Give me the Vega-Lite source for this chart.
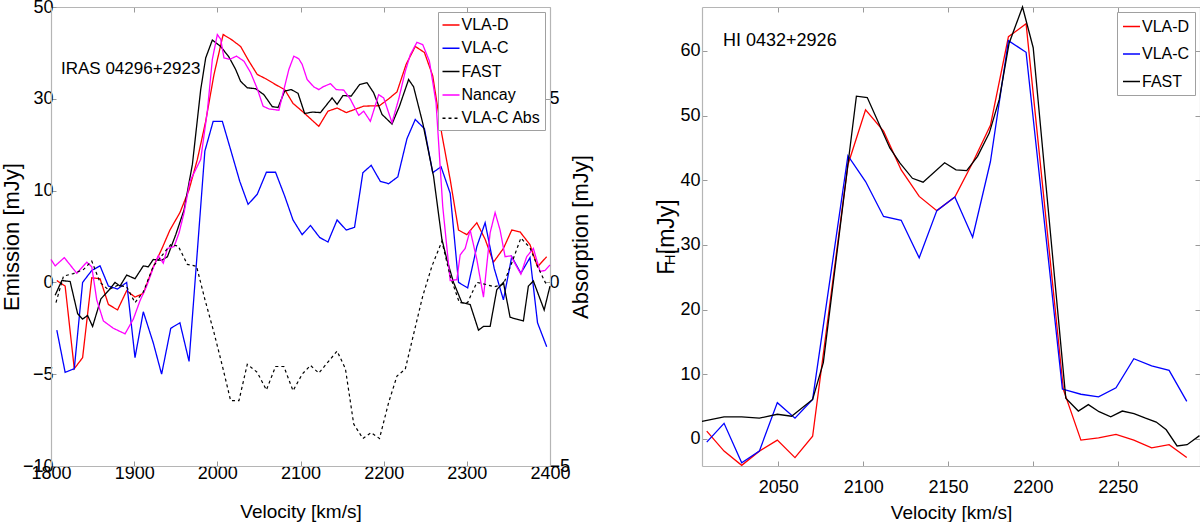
{
  "$schema": "https://vega.github.io/schema/vega-lite/v6.json",
  "background": "white",
  "padding": {"left": 0, "top": -2, "right": 0, "bottom": 0},
  "spacing": 152,
  "bounds": "flush",
  "datasets": {
    "irasEmission": [
      {"s": "VLA-D", "v": 1807, "f": 0.2}, {"s": "VLA-D", "v": 1817, "f": -0.2}, {"s": "VLA-D", "v": 1828, "f": -4.7}, {"s": "VLA-D", "v": 1838, "f": -4.1},
      {"s": "VLA-D", "v": 1849, "f": 0.5}, {"s": "VLA-D", "v": 1859, "f": 0.4}, {"s": "VLA-D", "v": 1869, "f": -1.2}, {"s": "VLA-D", "v": 1880, "f": -1.5},
      {"s": "VLA-D", "v": 1891, "f": -0.45}, {"s": "VLA-D", "v": 1901, "f": -0.8}, {"s": "VLA-D", "v": 1911, "f": -0.6}, {"s": "VLA-D", "v": 1923, "f": 1.7},
      {"s": "VLA-D", "v": 1933, "f": 3.6}, {"s": "VLA-D", "v": 1943, "f": 5.7}, {"s": "VLA-D", "v": 1955, "f": 7.6}, {"s": "VLA-D", "v": 1966, "f": 10.2},
      {"s": "VLA-D", "v": 1976, "f": 16.8}, {"s": "VLA-D", "v": 1986, "f": 25.1}, {"s": "VLA-D", "v": 1996, "f": 35.3}, {"s": "VLA-D", "v": 2007, "f": 44},
      {"s": "VLA-D", "v": 2017, "f": 42.9}, {"s": "VLA-D", "v": 2028, "f": 41.4}, {"s": "VLA-D", "v": 2038, "f": 38.2}, {"s": "VLA-D", "v": 2048, "f": 35.3},
      {"s": "VLA-D", "v": 2059, "f": 34.3}, {"s": "VLA-D", "v": 2070, "f": 33.1}, {"s": "VLA-D", "v": 2081, "f": 32}, {"s": "VLA-D", "v": 2091, "f": 29},
      {"s": "VLA-D", "v": 2102, "f": 27.3}, {"s": "VLA-D", "v": 2122, "f": 24.0}, {"s": "VLA-D", "v": 2133, "f": 27.3}, {"s": "VLA-D", "v": 2144, "f": 28},
      {"s": "VLA-D", "v": 2155, "f": 27}, {"s": "VLA-D", "v": 2176, "f": 28.4}, {"s": "VLA-D", "v": 2195, "f": 28.5}, {"s": "VLA-D", "v": 2206, "f": 30},
      {"s": "VLA-D", "v": 2216, "f": 31.5}, {"s": "VLA-D", "v": 2227, "f": 37.5}, {"s": "VLA-D", "v": 2238, "f": 41.4}, {"s": "VLA-D", "v": 2249, "f": 40.1},
      {"s": "VLA-D", "v": 2259, "f": 35}, {"s": "VLA-D", "v": 2270, "f": 22.2}, {"s": "VLA-D", "v": 2280, "f": 12.4}, {"s": "VLA-D", "v": 2290, "f": 5.7},
      {"s": "VLA-D", "v": 2300, "f": 5.2}, {"s": "VLA-D", "v": 2312, "f": 6.5}, {"s": "VLA-D", "v": 2322, "f": 4.7}, {"s": "VLA-D", "v": 2332, "f": 2.2},
      {"s": "VLA-D", "v": 2344, "f": 3.7}, {"s": "VLA-D", "v": 2354, "f": 5.7}, {"s": "VLA-D", "v": 2364, "f": 5.5}, {"s": "VLA-D", "v": 2376, "f": 4.1},
      {"s": "VLA-D", "v": 2385, "f": 1.7}, {"s": "VLA-D", "v": 2396, "f": 2.8},

      {"s": "VLA-C", "v": 1807, "f": -2.6}, {"s": "VLA-C", "v": 1817, "f": -4.9}, {"s": "VLA-C", "v": 1828, "f": -4.7}, {"s": "VLA-C", "v": 1838, "f": 0},
      {"s": "VLA-C", "v": 1849, "f": 1.3}, {"s": "VLA-C", "v": 1859, "f": 1.8}, {"s": "VLA-C", "v": 1869, "f": -0.2}, {"s": "VLA-C", "v": 1880, "f": -0.36},
      {"s": "VLA-C", "v": 1891, "f": 0}, {"s": "VLA-C", "v": 1901, "f": -4.1}, {"s": "VLA-C", "v": 1911, "f": -1.6}, {"s": "VLA-C", "v": 1923, "f": -3.3},
      {"s": "VLA-C", "v": 1933, "f": -5}, {"s": "VLA-C", "v": 1944, "f": -2.5}, {"s": "VLA-C", "v": 1955, "f": -2.2}, {"s": "VLA-C", "v": 1966, "f": -4.3},
      {"s": "VLA-C", "v": 1985, "f": 18.6}, {"s": "VLA-C", "v": 1995, "f": 25.1}, {"s": "VLA-C", "v": 2006, "f": 25.1}, {"s": "VLA-C", "v": 2016, "f": 18.9},
      {"s": "VLA-C", "v": 2027, "f": 12.0}, {"s": "VLA-C", "v": 2037, "f": 8.5}, {"s": "VLA-C", "v": 2048, "f": 9.6}, {"s": "VLA-C", "v": 2059, "f": 14},
      {"s": "VLA-C", "v": 2070, "f": 14}, {"s": "VLA-C", "v": 2081, "f": 9.4}, {"s": "VLA-C", "v": 2091, "f": 6.8}, {"s": "VLA-C", "v": 2102, "f": 5.2},
      {"s": "VLA-C", "v": 2112, "f": 6.2}, {"s": "VLA-C", "v": 2123, "f": 4.9}, {"s": "VLA-C", "v": 2133, "f": 4.4}, {"s": "VLA-C", "v": 2144, "f": 6.8},
      {"s": "VLA-C", "v": 2155, "f": 5.7}, {"s": "VLA-C", "v": 2165, "f": 6.0}, {"s": "VLA-C", "v": 2175, "f": 13.9}, {"s": "VLA-C", "v": 2185, "f": 15.5},
      {"s": "VLA-C", "v": 2196, "f": 12}, {"s": "VLA-C", "v": 2206, "f": 11.5}, {"s": "VLA-C", "v": 2217, "f": 13}, {"s": "VLA-C", "v": 2228, "f": 21.3},
      {"s": "VLA-C", "v": 2238, "f": 25.5}, {"s": "VLA-C", "v": 2249, "f": 23.5}, {"s": "VLA-C", "v": 2259, "f": 13.9}, {"s": "VLA-C", "v": 2269, "f": 15.2},
      {"s": "VLA-C", "v": 2280, "f": 9.7}, {"s": "VLA-C", "v": 2290, "f": 0}, {"s": "VLA-C", "v": 2301, "f": -0.3}, {"s": "VLA-C", "v": 2312, "f": 3.9},
      {"s": "VLA-C", "v": 2322, "f": 6.5}, {"s": "VLA-C", "v": 2333, "f": 1.5}, {"s": "VLA-C", "v": 2344, "f": -0.95}, {"s": "VLA-C", "v": 2354, "f": 2.8},
      {"s": "VLA-C", "v": 2365, "f": 1.0}, {"s": "VLA-C", "v": 2376, "f": 2.7}, {"s": "VLA-C", "v": 2385, "f": -2.2}, {"s": "VLA-C", "v": 2396, "f": -3.5},

      {"s": "FAST", "v": 1805, "f": -0.7}, {"s": "FAST", "v": 1813, "f": 0.2}, {"s": "FAST", "v": 1823, "f": 0.1}, {"s": "FAST", "v": 1832, "f": -1.7},
      {"s": "FAST", "v": 1838, "f": -2.0}, {"s": "FAST", "v": 1844, "f": -1.8}, {"s": "FAST", "v": 1850, "f": -2.4}, {"s": "FAST", "v": 1860, "f": -0.9},
      {"s": "FAST", "v": 1870, "f": -0.4}, {"s": "FAST", "v": 1877, "f": 0}, {"s": "FAST", "v": 1883, "f": -0.2}, {"s": "FAST", "v": 1891, "f": 0.8},
      {"s": "FAST", "v": 1901, "f": 0.4}, {"s": "FAST", "v": 1911, "f": 1.8}, {"s": "FAST", "v": 1917, "f": 1.7}, {"s": "FAST", "v": 1923, "f": 2.5},
      {"s": "FAST", "v": 1933, "f": 2.4}, {"s": "FAST", "v": 1940, "f": 2.8}, {"s": "FAST", "v": 1950, "f": 5.2}, {"s": "FAST", "v": 1960, "f": 7.9},
      {"s": "FAST", "v": 1970, "f": 15.7}, {"s": "FAST", "v": 1980, "f": 32}, {"s": "FAST", "v": 1986, "f": 38.9}, {"s": "FAST", "v": 1994, "f": 42.8},
      {"s": "FAST", "v": 2004, "f": 41.4}, {"s": "FAST", "v": 2014, "f": 39.1}, {"s": "FAST", "v": 2022, "f": 36.4}, {"s": "FAST", "v": 2028, "f": 33.8},
      {"s": "FAST", "v": 2036, "f": 32.4}, {"s": "FAST", "v": 2046, "f": 32.2}, {"s": "FAST", "v": 2056, "f": 30.9}, {"s": "FAST", "v": 2066, "f": 28.3},
      {"s": "FAST", "v": 2073, "f": 28.1}, {"s": "FAST", "v": 2081, "f": 31.7}, {"s": "FAST", "v": 2089, "f": 32}, {"s": "FAST", "v": 2097, "f": 31.2},
      {"s": "FAST", "v": 2105, "f": 26.8}, {"s": "FAST", "v": 2114, "f": 27.1}, {"s": "FAST", "v": 2124, "f": 27}, {"s": "FAST", "v": 2138, "f": 30.2},
      {"s": "FAST", "v": 2144, "f": 28.8}, {"s": "FAST", "v": 2151, "f": 30.7}, {"s": "FAST", "v": 2161, "f": 30.6}, {"s": "FAST", "v": 2171, "f": 33.1},
      {"s": "FAST", "v": 2180, "f": 33.5}, {"s": "FAST", "v": 2188, "f": 31.3}, {"s": "FAST", "v": 2198, "f": 26.6}, {"s": "FAST", "v": 2210, "f": 24.5},
      {"s": "FAST", "v": 2219, "f": 28.4}, {"s": "FAST", "v": 2230, "f": 34.2}, {"s": "FAST", "v": 2236, "f": 32.6}, {"s": "FAST", "v": 2247, "f": 24.7},
      {"s": "FAST", "v": 2260, "f": 13.1}, {"s": "FAST", "v": 2270, "f": 4.7}, {"s": "FAST", "v": 2276, "f": 2.5}, {"s": "FAST", "v": 2284, "f": 0},
      {"s": "FAST", "v": 2294, "f": -1.1}, {"s": "FAST", "v": 2304, "f": -1.2}, {"s": "FAST", "v": 2314, "f": -2.6}, {"s": "FAST", "v": 2320, "f": -2.4},
      {"s": "FAST", "v": 2328, "f": -2.4}, {"s": "FAST", "v": 2336, "f": -0.4}, {"s": "FAST", "v": 2344, "f": 0}, {"s": "FAST", "v": 2352, "f": -1.9},
      {"s": "FAST", "v": 2360, "f": -2.0}, {"s": "FAST", "v": 2368, "f": -2.1}, {"s": "FAST", "v": 2374, "f": -0.2}, {"s": "FAST", "v": 2380, "f": 0.15},
      {"s": "FAST", "v": 2393, "f": -1.5}, {"s": "FAST", "v": 2400, "f": -0.2},

      {"s": "Nancay", "v": 1800, "f": 2.5}, {"s": "Nancay", "v": 1805, "f": 1.8}, {"s": "Nancay", "v": 1816, "f": 2.7}, {"s": "Nancay", "v": 1831, "f": 1.0},
      {"s": "Nancay", "v": 1843, "f": 2.2}, {"s": "Nancay", "v": 1849, "f": 1.7}, {"s": "Nancay", "v": 1855, "f": -0.95}, {"s": "Nancay", "v": 1863, "f": -2.1},
      {"s": "Nancay", "v": 1875, "f": -2.5}, {"s": "Nancay", "v": 1889, "f": -2.8}, {"s": "Nancay", "v": 1899, "f": -2.0}, {"s": "Nancay", "v": 1907, "f": -1.0},
      {"s": "Nancay", "v": 1915, "f": -0.2}, {"s": "Nancay", "v": 1923, "f": 1.6}, {"s": "Nancay", "v": 1929, "f": 2.9}, {"s": "Nancay", "v": 1935, "f": 2.1},
      {"s": "Nancay", "v": 1940, "f": 3.7}, {"s": "Nancay", "v": 1948, "f": 3.9}, {"s": "Nancay", "v": 1954, "f": 5.4}, {"s": "Nancay", "v": 1960, "f": 7.6},
      {"s": "Nancay", "v": 1967, "f": 12}, {"s": "Nancay", "v": 1980, "f": 16.8}, {"s": "Nancay", "v": 1988, "f": 27.3}, {"s": "Nancay", "v": 1994, "f": 38.6},
      {"s": "Nancay", "v": 2000, "f": 44}, {"s": "Nancay", "v": 2004, "f": 43}, {"s": "Nancay", "v": 2008, "f": 38.9}, {"s": "Nancay", "v": 2015, "f": 38.6},
      {"s": "Nancay", "v": 2023, "f": 39.3}, {"s": "Nancay", "v": 2032, "f": 38.2}, {"s": "Nancay", "v": 2040, "f": 35.7}, {"s": "Nancay", "v": 2048, "f": 32.2},
      {"s": "Nancay", "v": 2055, "f": 28.4}, {"s": "Nancay", "v": 2062, "f": 27.8}, {"s": "Nancay", "v": 2074, "f": 27.5}, {"s": "Nancay", "v": 2080, "f": 32},
      {"s": "Nancay", "v": 2086, "f": 36.4}, {"s": "Nancay", "v": 2092, "f": 39.3}, {"s": "Nancay", "v": 2098, "f": 38.7}, {"s": "Nancay", "v": 2102, "f": 37.5},
      {"s": "Nancay", "v": 2108, "f": 34.2}, {"s": "Nancay", "v": 2116, "f": 32.6}, {"s": "Nancay", "v": 2122, "f": 32}, {"s": "Nancay", "v": 2127, "f": 32.6},
      {"s": "Nancay", "v": 2136, "f": 33.3}, {"s": "Nancay", "v": 2143, "f": 32}, {"s": "Nancay", "v": 2152, "f": 31.9}, {"s": "Nancay", "v": 2160, "f": 29.9},
      {"s": "Nancay", "v": 2170, "f": 26.4}, {"s": "Nancay", "v": 2176, "f": 27.3}, {"s": "Nancay", "v": 2184, "f": 25.1}, {"s": "Nancay", "v": 2194, "f": 30.9},
      {"s": "Nancay", "v": 2200, "f": 30.2}, {"s": "Nancay", "v": 2210, "f": 24.8}, {"s": "Nancay", "v": 2218, "f": 29.9}, {"s": "Nancay", "v": 2226, "f": 36},
      {"s": "Nancay", "v": 2232, "f": 39.6}, {"s": "Nancay", "v": 2240, "f": 42.3}, {"s": "Nancay", "v": 2247, "f": 41.8}, {"s": "Nancay", "v": 2255, "f": 38.2},
      {"s": "Nancay", "v": 2263, "f": 29.1}, {"s": "Nancay", "v": 2271, "f": 8.3}, {"s": "Nancay", "v": 2280, "f": 0.2}, {"s": "Nancay", "v": 2288, "f": 0.3},
      {"s": "Nancay", "v": 2292, "f": 3.0}, {"s": "Nancay", "v": 2298, "f": 3.7}, {"s": "Nancay", "v": 2304, "f": 5.7}, {"s": "Nancay", "v": 2312, "f": 2.5},
      {"s": "Nancay", "v": 2320, "f": -0.8}, {"s": "Nancay", "v": 2328, "f": 5.4}, {"s": "Nancay", "v": 2334, "f": 7.6}, {"s": "Nancay", "v": 2340, "f": 5.7},
      {"s": "Nancay", "v": 2346, "f": 2.8}, {"s": "Nancay", "v": 2353, "f": 2.9}, {"s": "Nancay", "v": 2360, "f": 1.7}, {"s": "Nancay", "v": 2365, "f": 0.9},
      {"s": "Nancay", "v": 2372, "f": 2.8}, {"s": "Nancay", "v": 2380, "f": 3.7}, {"s": "Nancay", "v": 2388, "f": 1.2}, {"s": "Nancay", "v": 2394, "f": 1.3},
      {"s": "Nancay", "v": 2400, "f": 1.9}
    ],
    "irasAbsorption": [
      {"s": "VLA-C Abs", "v": 1806, "a": -0.55}, {"s": "VLA-C Abs", "v": 1815, "a": 0.17}, {"s": "VLA-C Abs", "v": 1827, "a": 0.24}, {"s": "VLA-C Abs", "v": 1839, "a": 0.35},
      {"s": "VLA-C Abs", "v": 1849, "a": 0.58}, {"s": "VLA-C Abs", "v": 1859, "a": 0}, {"s": "VLA-C Abs", "v": 1869, "a": -0.2}, {"s": "VLA-C Abs", "v": 1880, "a": -0.08},
      {"s": "VLA-C Abs", "v": 1891, "a": -0.12}, {"s": "VLA-C Abs", "v": 1901, "a": -0.55}, {"s": "VLA-C Abs", "v": 1911, "a": -0.26}, {"s": "VLA-C Abs", "v": 1923, "a": 0.44},
      {"s": "VLA-C Abs", "v": 1933, "a": 0.72}, {"s": "VLA-C Abs", "v": 1944, "a": 1.03}, {"s": "VLA-C Abs", "v": 1953, "a": 0.99}, {"s": "VLA-C Abs", "v": 1964, "a": 0.49},
      {"s": "VLA-C Abs", "v": 1975, "a": 0.44}, {"s": "VLA-C Abs", "v": 1985, "a": -0.46}, {"s": "VLA-C Abs", "v": 1996, "a": -1.37}, {"s": "VLA-C Abs", "v": 2006, "a": -2.27},
      {"s": "VLA-C Abs", "v": 2016, "a": -3.22}, {"s": "VLA-C Abs", "v": 2026, "a": -3.22}, {"s": "VLA-C Abs", "v": 2036, "a": -2.23}, {"s": "VLA-C Abs", "v": 2048, "a": -2.45},
      {"s": "VLA-C Abs", "v": 2059, "a": -2.93}, {"s": "VLA-C Abs", "v": 2070, "a": -2.29}, {"s": "VLA-C Abs", "v": 2080, "a": -2.29}, {"s": "VLA-C Abs", "v": 2091, "a": -2.95},
      {"s": "VLA-C Abs", "v": 2102, "a": -2.5}, {"s": "VLA-C Abs", "v": 2112, "a": -2.26}, {"s": "VLA-C Abs", "v": 2122, "a": -2.47}, {"s": "VLA-C Abs", "v": 2144, "a": -1.87},
      {"s": "VLA-C Abs", "v": 2154, "a": -2.35}, {"s": "VLA-C Abs", "v": 2164, "a": -3.86}, {"s": "VLA-C Abs", "v": 2175, "a": -4.25}, {"s": "VLA-C Abs", "v": 2185, "a": -4.09},
      {"s": "VLA-C Abs", "v": 2195, "a": -4.25}, {"s": "VLA-C Abs", "v": 2206, "a": -3.27}, {"s": "VLA-C Abs", "v": 2216, "a": -2.55}, {"s": "VLA-C Abs", "v": 2226, "a": -2.36},
      {"s": "VLA-C Abs", "v": 2236, "a": -1.41}, {"s": "VLA-C Abs", "v": 2247, "a": -0.37}, {"s": "VLA-C Abs", "v": 2258, "a": 0.44}, {"s": "VLA-C Abs", "v": 2270, "a": 1.12},
      {"s": "VLA-C Abs", "v": 2280, "a": 0.17}, {"s": "VLA-C Abs", "v": 2291, "a": -0.55}, {"s": "VLA-C Abs", "v": 2301, "a": -0.55}, {"s": "VLA-C Abs", "v": 2312, "a": 0},
      {"s": "VLA-C Abs", "v": 2322, "a": -0.05}, {"s": "VLA-C Abs", "v": 2333, "a": -0.12}, {"s": "VLA-C Abs", "v": 2344, "a": -0.05}, {"s": "VLA-C Abs", "v": 2354, "a": 0.53},
      {"s": "VLA-C Abs", "v": 2365, "a": 1.21}, {"s": "VLA-C Abs", "v": 2376, "a": 0.94}, {"s": "VLA-C Abs", "v": 2385, "a": 0.44}, {"s": "VLA-C Abs", "v": 2396, "a": -0.08}
    ],
    "hiSpectra": [
      {"s": "VLA-D", "v": 2007.8, "f": 1.2}, {"s": "VLA-D", "v": 2018, "f": -1.9}, {"s": "VLA-D", "v": 2028.4, "f": -4.1}, {"s": "VLA-D", "v": 2038.8, "f": -1.9},
      {"s": "VLA-D", "v": 2049.4, "f": -0.2}, {"s": "VLA-D", "v": 2059.8, "f": -2.9}, {"s": "VLA-D", "v": 2070.2, "f": 0.4}, {"s": "VLA-D", "v": 2091, "f": 42.4},
      {"s": "VLA-D", "v": 2101.4, "f": 50.9}, {"s": "VLA-D", "v": 2112, "f": 47.6}, {"s": "VLA-D", "v": 2122.4, "f": 41.6}, {"s": "VLA-D", "v": 2133, "f": 37.5},
      {"s": "VLA-D", "v": 2143.4, "f": 35.3}, {"s": "VLA-D", "v": 2154, "f": 37.4}, {"s": "VLA-D", "v": 2164.5, "f": 42.7}, {"s": "VLA-D", "v": 2175, "f": 48.5},
      {"s": "VLA-D", "v": 2185.6, "f": 62.2}, {"s": "VLA-D", "v": 2196, "f": 64.2}, {"s": "VLA-D", "v": 2218, "f": 7.6}, {"s": "VLA-D", "v": 2228.3, "f": -0.2},
      {"s": "VLA-D", "v": 2238.7, "f": 0.15}, {"s": "VLA-D", "v": 2249, "f": 0.7}, {"s": "VLA-D", "v": 2259.5, "f": -0.2}, {"s": "VLA-D", "v": 2270, "f": -1.4},
      {"s": "VLA-D", "v": 2280.3, "f": -0.9}, {"s": "VLA-D", "v": 2290.7, "f": -2.9},

      {"s": "VLA-C", "v": 2007.8, "f": -0.5}, {"s": "VLA-C", "v": 2018, "f": 2.4}, {"s": "VLA-C", "v": 2028.4, "f": -3.7}, {"s": "VLA-C", "v": 2038.8, "f": -1.9},
      {"s": "VLA-C", "v": 2049.4, "f": 5.6}, {"s": "VLA-C", "v": 2059.8, "f": 3.2}, {"s": "VLA-C", "v": 2070.2, "f": 6.1}, {"s": "VLA-C", "v": 2091, "f": 43.8},
      {"s": "VLA-C", "v": 2101.4, "f": 39.8}, {"s": "VLA-C", "v": 2112, "f": 34.4}, {"s": "VLA-C", "v": 2122.4, "f": 33.8}, {"s": "VLA-C", "v": 2133, "f": 28},
      {"s": "VLA-C", "v": 2143.4, "f": 35.3}, {"s": "VLA-C", "v": 2154, "f": 37.4}, {"s": "VLA-C", "v": 2164.5, "f": 31.2}, {"s": "VLA-C", "v": 2175, "f": 42.9},
      {"s": "VLA-C", "v": 2185.6, "f": 61.6}, {"s": "VLA-C", "v": 2196, "f": 59.8}, {"s": "VLA-C", "v": 2217.4, "f": 7.7}, {"s": "VLA-C", "v": 2228.3, "f": 6.9},
      {"s": "VLA-C", "v": 2238.7, "f": 6.5}, {"s": "VLA-C", "v": 2249, "f": 7.9}, {"s": "VLA-C", "v": 2259.5, "f": 12.4}, {"s": "VLA-C", "v": 2270, "f": 11.3},
      {"s": "VLA-C", "v": 2280.3, "f": 10.6}, {"s": "VLA-C", "v": 2290.7, "f": 5.8},

      {"s": "FAST", "v": 2005, "f": 2.7}, {"s": "FAST", "v": 2018, "f": 3.4}, {"s": "FAST", "v": 2028.4, "f": 3.4}, {"s": "FAST", "v": 2038.8, "f": 3.2},
      {"s": "FAST", "v": 2049.4, "f": 3.8}, {"s": "FAST", "v": 2057.8, "f": 3.5}, {"s": "FAST", "v": 2070.2, "f": 6.1}, {"s": "FAST", "v": 2076.5, "f": 11.8},
      {"s": "FAST", "v": 2096, "f": 53}, {"s": "FAST", "v": 2102.4, "f": 52.8}, {"s": "FAST", "v": 2115.7, "f": 45}, {"s": "FAST", "v": 2121.6, "f": 42.7},
      {"s": "FAST", "v": 2129, "f": 40.3}, {"s": "FAST", "v": 2135.3, "f": 39.7}, {"s": "FAST", "v": 2148, "f": 42.7}, {"s": "FAST", "v": 2154.7, "f": 41.6},
      {"s": "FAST", "v": 2161, "f": 41.5}, {"s": "FAST", "v": 2167.4, "f": 43.7}, {"s": "FAST", "v": 2174.3, "f": 47.3}, {"s": "FAST", "v": 2180.2, "f": 52.5},
      {"s": "FAST", "v": 2186, "f": 61.2}, {"s": "FAST", "v": 2193.9, "f": 66.8}, {"s": "FAST", "v": 2200.2, "f": 60.5}, {"s": "FAST", "v": 2219.4, "f": 6.3},
      {"s": "FAST", "v": 2226.8, "f": 4.3}, {"s": "FAST", "v": 2232.7, "f": 5.3}, {"s": "FAST", "v": 2239, "f": 4.2}, {"s": "FAST", "v": 2245.9, "f": 3.4},
      {"s": "FAST", "v": 2252.7, "f": 4.3}, {"s": "FAST", "v": 2259.6, "f": 3.9}, {"s": "FAST", "v": 2266.4, "f": 3.2}, {"s": "FAST", "v": 2272.7, "f": 2.6},
      {"s": "FAST", "v": 2278.6, "f": 1.4}, {"s": "FAST", "v": 2285, "f": -1.1}, {"s": "FAST", "v": 2290.9, "f": -0.9}, {"s": "FAST", "v": 2298.2, "f": 0.5}
    ],
    "labels": [
      {"panel": "iras", "label": "IRAS 04296+2923"},
      {"panel": "hi", "label": "HI 0432+2926"},
      {"panel": "hisub", "label": "HI"}
    ]
  },
  "hconcat": [
    {
      "width": 499,
      "height": 459,
      "layer": [
        {
          "data": {"name": "irasEmission"},
          "mark": {"type": "line", "strokeWidth": 1.3},
          "encoding": {
            "x": {"field": "v", "type": "quantitative",
              "scale": {"domain": [1800, 2400], "nice": false, "zero": false},
              "axis": {"orient": "bottom", "values": [1800, 1900, 2000, 2100, 2200, 2300, 2400], "format": "d", "title": "Velocity [km/s]", "labelPadding": 3, "titlePadding": 20}},
            "y": {"field": "f", "type": "quantitative",
              "scale": {"type": "linear", "domain": [-10, -5, 0, 10, 30, 50], "range": [459, 367.2, 275.4, 183.6, 91.8, 0], "nice": false, "zero": false},
              "axis": {"orient": "left", "values": [-10, -5, 0, 10, 30, 50], "format": "d", "title": "Emission [mJy]", "titleFontSize": 22, "labelPadding": 3, "titlePadding": -1.5}},
            "color": {"field": "s", "type": "nominal",
              "scale": {"domain": ["VLA-D", "VLA-C", "FAST", "Nancay", "VLA-C Abs"], "range": ["#ff0000", "#0000ff", "#000000", "#ff00ff", "#000000"]},
              "legend": {"orient": "top-right", "offset": 5, "title": null, "labelFontSize": 16, "rowPadding": 5.3, "padding": 3.5, "symbolSize": 289}},
            "strokeDash": {"field": "s", "type": "nominal",
              "scale": {"domain": ["VLA-D", "VLA-C", "FAST", "Nancay", "VLA-C Abs"], "range": [[1, 0], [1, 0], [1, 0], [1, 0], [3, 3]]},
              "legend": {"orient": "top-right", "offset": 5, "title": null, "labelFontSize": 16, "rowPadding": 5.3, "padding": 3.5, "symbolSize": 289}}
          }
        },
        {
          "data": {"name": "irasAbsorption"},
          "mark": {"type": "line", "strokeWidth": 1.2},
          "encoding": {
            "x": {"field": "v", "type": "quantitative",
              "scale": {"domain": [1800, 2400], "nice": false, "zero": false},
              "axis": {"orient": "top", "values": [1800, 1900, 2000, 2100, 2200, 2300, 2400], "labels": false, "title": null}},
            "y": {"field": "a", "type": "quantitative",
              "scale": {"domain": [-5, 7.5], "nice": false, "zero": false},
              "axis": {"orient": "right", "values": [-5, 0, 5], "format": "d", "title": "Absorption [mJy]", "titleFontSize": 22, "titleAngle": 270, "labelPadding": 4, "titlePadding": 23}},
            "color": {"field": "s", "type": "nominal",
              "scale": {"domain": ["VLA-D", "VLA-C", "FAST", "Nancay", "VLA-C Abs"], "range": ["#ff0000", "#0000ff", "#000000", "#ff00ff", "#000000"]}},
            "strokeDash": {"field": "s", "type": "nominal",
              "scale": {"domain": ["VLA-D", "VLA-C", "FAST", "Nancay", "VLA-C Abs"], "range": [[1, 0], [1, 0], [1, 0], [1, 0], [3, 3]]}}
          }
        },
        {
          "data": {"name": "labels"},
          "transform": [{"filter": "datum.panel === 'iras'"}],
          "mark": {"type": "text", "align": "left", "baseline": "middle", "fontSize": 17, "color": "#000000"},
          "encoding": {
            "x": {"datum": 1812, "type": "quantitative", "axis": null},
            "y": {"datum": 5.8, "type": "quantitative", "scale": {"domain": [-5, 7.5], "nice": false, "zero": false}, "axis": null},
            "text": {"field": "label"}
          }
        }
      ],
      "resolve": {"scale": {"y": "independent"}, "axis": {"x": "independent", "y": "independent"}}
    },
    {
      "width": 498,
      "height": 459,
      "layer": [
        {
          "data": {"name": "hiSpectra"},
          "transform": [{"filter": "datum.s !== 'FAST'"}],
          "mark": {"type": "line", "strokeWidth": 1.3},
          "encoding": {
            "x": {"field": "v", "type": "quantitative",
              "scale": {"domain": [2005, 2298.5], "nice": false, "zero": false},
              "axis": {"orient": "bottom", "values": [2050, 2100, 2150, 2200, 2250], "format": "d", "title": "Velocity [km/s]", "labelPadding": 17, "titlePadding": 7}},
            "y": {"field": "f", "type": "quantitative",
              "scale": {"domain": [-4.2, 66.8], "nice": false, "zero": false},
              "axis": {"orient": "left", "values": [0, 10, 20, 30, 40, 50, 60], "format": "d", "title": "F   [mJy]", "titleFontSize": 23, "labelPadding": 7, "titlePadding": 1}},
            "color": {"field": "s", "type": "nominal",
              "scale": {"domain": ["VLA-D", "VLA-C", "FAST"], "range": ["#ff0000", "#0000ff", "#000000"]},
              "legend": {"orient": "top-right", "offset": 5, "title": null, "labelFontSize": 16, "rowPadding": 9.5, "padding": 5, "symbolSize": 289}}
          }
        },
        {
          "data": {"name": "hiSpectra"},
          "transform": [{"filter": "datum.s === 'FAST'"}],
          "mark": {"type": "line", "strokeWidth": 1.3},
          "encoding": {
            "x": {"field": "v", "type": "quantitative",
              "scale": {"domain": [2005, 2298.5], "nice": false, "zero": false},
              "axis": {"orient": "top", "values": [2050, 2100, 2150, 2200, 2250], "labels": false, "title": null}},
            "y": {"field": "f", "type": "quantitative",
              "scale": {"domain": [-4.2, 66.8], "nice": false, "zero": false},
              "axis": {"orient": "right", "values": [0, 10, 20, 30, 40, 50, 60], "labels": false, "title": null}},
            "color": {"field": "s", "type": "nominal",
              "scale": {"domain": ["VLA-D", "VLA-C", "FAST"], "range": ["#ff0000", "#0000ff", "#000000"]}}
          }
        },
        {
          "data": {"name": "labels"},
          "transform": [{"filter": "datum.panel === 'hi'"}],
          "mark": {"type": "text", "align": "left", "baseline": "middle", "fontSize": 18, "color": "#000000"},
          "encoding": {
            "x": {"datum": 2017.4, "type": "quantitative", "axis": null},
            "y": {"datum": 61.5, "type": "quantitative", "axis": null},
            "text": {"field": "label"}
          }
        },
        {
          "data": {"name": "labels"},
          "transform": [{"filter": "datum.panel === 'hisub'"}],
          "mark": {"type": "text", "align": "center", "baseline": "middle", "angle": 270, "fontSize": 15, "color": "#000000"},
          "encoding": {
            "x": {"datum": 1985.9, "type": "quantitative", "axis": null},
            "y": {"datum": 28.0, "type": "quantitative", "axis": null},
            "text": {"field": "label"}
          }
        }
      ],
      "resolve": {"axis": {"x": "independent", "y": "independent"}}
    }
  ],
  "resolve": {"scale": {"color": "independent", "strokeDash": "independent"}, "legend": {"color": "independent", "strokeDash": "independent"}},
  "config": {
    "font": "Liberation Sans",
    "view": {"stroke": null},
    "axis": {
      "grid": false,
      "domainColor": "#b5b5b5",
      "domainWidth": 1.2,
      "tickColor": "#9a9a9a",
      "tickSize": -5,
      "labelFont": "Liberation Sans",
      "labelFontSize": 18,
      "labelColor": "#000000",
      "titleFont": "Liberation Sans",
      "titleFontSize": 19,
      "titleFontWeight": "normal",
      "titleColor": "#000000",
      "labelFlush": false,
      "labelOverlap": false
    },
    "legend": {
      "symbolType": "stroke",
      "symbolStrokeWidth": 1.5,
      "labelFont": "Liberation Sans",
      "labelColor": "#000000",
      "labelOffset": 1,
      "fillColor": "#ffffff",
      "strokeColor": "#a0a0a0",
      "cornerRadius": 0
    }
  }
}
